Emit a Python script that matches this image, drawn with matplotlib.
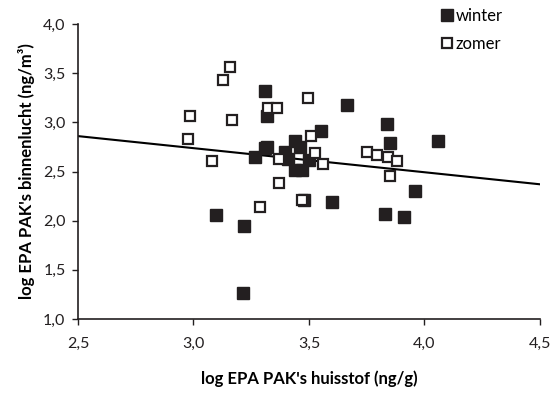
import matplotlib.pyplot as plt
from matplotlib.ticker import FuncFormatter

plt.rcParams['font.family'] = ['Lato', 'DejaVu Sans']

# winter samples (filled)
winter_x = [3.096, 3.22, 3.215, 3.265, 3.31, 3.31, 3.318, 3.32, 3.395, 3.41,
            3.44, 3.44, 3.47, 3.46, 3.48, 3.50, 3.55, 3.60, 3.664, 3.836,
            3.83, 3.85, 3.91, 3.96, 4.06]
winter_y = [2.06, 1.95, 1.26, 2.65, 3.32, 2.74, 3.06, 2.75, 2.70, 2.625,
            2.81, 2.52, 2.52, 2.75, 2.21, 2.62, 2.91, 2.19, 3.18, 2.98,
            2.07, 2.79, 2.04, 2.30, 2.81]

# zomer samples (open)
zomer_x = [2.983, 2.978, 3.08, 3.128, 3.16, 3.167, 3.287, 3.323, 3.36, 3.37,
           3.37, 3.47, 3.494, 3.51, 3.525, 3.56, 3.75, 3.796, 3.84, 3.85,
           3.88]
zomer_y = [3.06, 2.83, 2.61, 3.43, 3.56, 3.02, 2.14, 3.15, 3.15, 2.38,
           2.63, 2.21, 3.245, 2.86, 2.685, 2.58, 2.70, 2.67, 2.645, 2.45,
           2.61]

# trend line end points
trend_x = [2.5, 4.5]
trend_y = [2.86, 2.37]

fig = plt.figure(figsize=(5.53, 3.96), dpi=100)
ax = fig.add_axes([0.141, 0.1944, 0.8355, 0.745])

ax.plot(winter_x, winter_y, 's', ms=8, color='#231f20', mec='#231f20',
        label='winter', zorder=3)
ax.plot(zomer_x, zomer_y, 's', ms=7.2, mfc='white', mec='#231f20', mew=1.6,
        label='zomer', zorder=3)
ax.plot(trend_x, trend_y, color='black', lw=1.5, zorder=2)

ax.set_xlim(2.5, 4.5)
ax.set_ylim(1.0, 4.0)
ax.set_xticks([2.5, 3.0, 3.5, 4.0, 4.5])
ax.set_yticks([1.0, 1.5, 2.0, 2.5, 3.0, 3.5, 4.0])
fmt = FuncFormatter(lambda v, p: f'{v:.1f}'.replace('.', ','))
ax.xaxis.set_major_formatter(fmt)
ax.yaxis.set_major_formatter(fmt)
ax.tick_params(labelsize=11.5, colors='#231f20', length=4, width=1)
ax.tick_params(axis='x', pad=9)
ax.tick_params(axis='y', pad=5)

for s in ['top', 'right']:
    ax.spines[s].set_visible(False)
for s in ['left', 'bottom']:
    ax.spines[s].set_color('#231f20')
    ax.spines[s].set_linewidth(1.2)

ax.set_xlabel("log EPA PAK's huisstof (ng/g)", fontsize=12, fontweight='bold',
              labelpad=14)
ax.set_ylabel("log EPA PAK's binnenlucht (ng/m³)", fontsize=12,
              fontweight='bold', labelpad=6)

fig.legend(loc='upper left', bbox_to_anchor=(0.776, 1.005), frameon=False,
           fontsize=12, handletextpad=0.1, labelspacing=0.7,
           handlelength=0.9, borderaxespad=0.2)

fig.savefig('out.png', dpi=100)
